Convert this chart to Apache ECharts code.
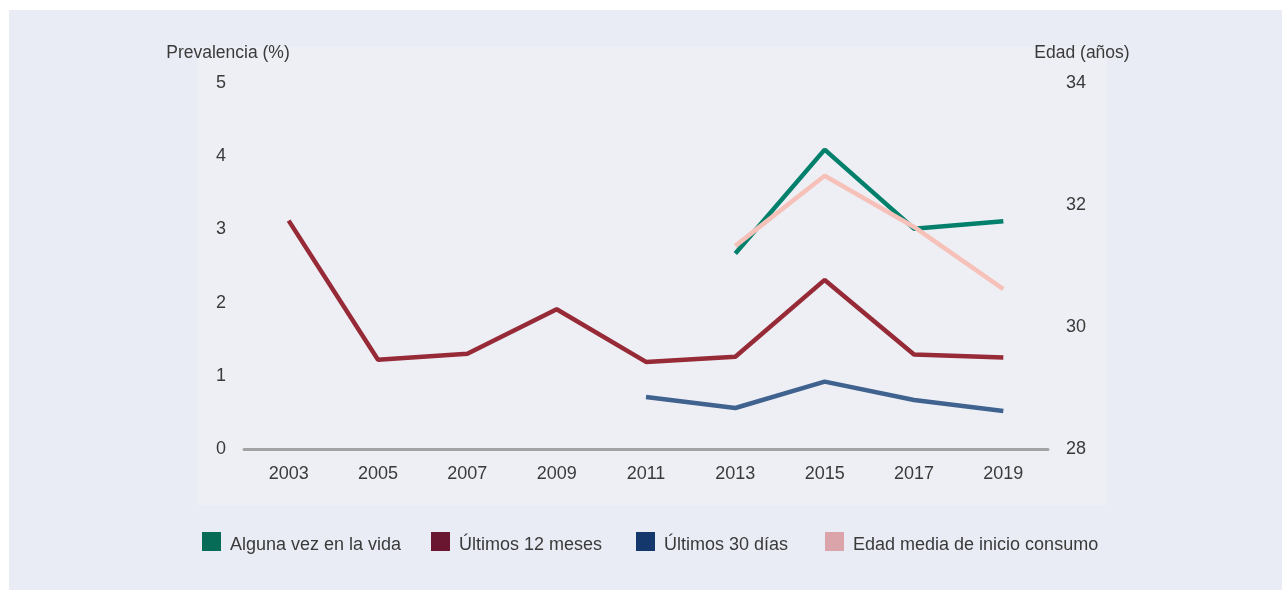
<!DOCTYPE html>
<html>
<head>
<meta charset="utf-8">
<script src="https://cdn.jsdelivr.net/npm/echarts@6/dist/echarts.min.js"></script>
<style>
html,body{margin:0;padding:0;background:#ffffff;}
#chart{width:1282px;height:590px;}
</style>
</head>
<body>
<div id="chart"></div>
<script>
const years = ['2003','2005','2007','2009','2011','2013','2015','2017','2019'];
const algunaVez = [null, null, null, null, null, 2.67, 4.09, 3.01, 3.11];
const ultimos12 = [3.12, 1.22, 1.30, 1.91, 1.19, 1.26, 2.31, 1.29, 1.25];
const ultimos30 = [null, null, null, null, 0.71, 0.56, 0.92, 0.67, 0.52];
const edadMedia = [null, null, null, null, null, 31.33, 32.48, 31.64, 30.62];
const leftTicks = [0, 1, 2, 3, 4, 5];
const rightTicks = [28, 30, 32, 34];
const seriesNames = ['Alguna vez en la vida', 'Últimos 12 meses', 'Últimos 30 días', 'Edad media de inicio consumo'];

const font = 'Liberation Sans, Arial, Helvetica, sans-serif';
const chart = echarts.init(document.getElementById('chart'));
const lineColors = ['#02806b', '#962a36', '#40628f', '#f6c1b9'];
const legendColors = ['#066b57', '#6a1631', '#14386b', '#dba4aa'];
const legendLefts = [202, 431, 636, 825];
const textColor = '#3a3a3a';

chart.setOption({
  animation: false,
  backgroundColor: '#ffffff',
  graphic: [
    { type: 'rect', z: -10, shape: { x: 9, y: 10, width: 1273, height: 580 }, style: { fill: '#e9ecf4' } },
    { type: 'rect', z: -9, shape: { x: 197, y: 47, width: 910, height: 458 }, style: { fill: '#eeeff5' } }
  ],
  grid: { left: 244, right: 234, top: 83, bottom: 141, containLabel: false },
  legend: seriesNames.map((n, i) => ({
    left: legendLefts[i], top: 532, padding: 0,
    itemWidth: 19, itemHeight: 19,
    icon: 'rect',
    formatter: '{t|{name}}',
    textStyle: {
      fontFamily: font, fontSize: 18, color: textColor,
      rich: { t: { fontFamily: font, fontSize: 18, color: textColor, padding: [8, 0, 0, 4] } }
    },
    data: [{ name: n, itemStyle: { color: legendColors[i] } }]
  })),
  xAxis: {
    type: 'category',
    data: years,
    boundaryGap: true,
    axisLine: { show: true, lineStyle: { color: '#a3a3a3', width: 3 } },
    axisTick: { show: false },
    axisLabel: { fontFamily: font, fontSize: 18, color: textColor, margin: 16 },
    splitLine: { show: false }
  },
  yAxis: [
    {
      type: 'value', min: leftTicks[0], max: leftTicks[leftTicks.length - 1], interval: 1,
      name: 'Prevalencia (%)', nameLocation: 'end', nameGap: 21,
      nameTextStyle: { fontFamily: font, fontSize: 17.5, color: textColor, align: 'center', padding: [0, 32, 0, 0] },
      axisLine: { show: false }, axisTick: { show: false }, splitLine: { show: false },
      axisLabel: { fontFamily: font, fontSize: 18, color: textColor, margin: 18 }
    },
    {
      type: 'value', min: rightTicks[0], max: rightTicks[rightTicks.length - 1], interval: 2,
      name: 'Edad (años)', nameLocation: 'end', nameGap: 21,
      nameTextStyle: { fontFamily: font, fontSize: 17.5, color: textColor, align: 'center', padding: [0, 0, 0, 68] },
      axisLine: { show: false }, axisTick: { show: false }, splitLine: { show: false },
      axisLabel: { fontFamily: font, fontSize: 18, color: textColor, margin: 18 }
    }
  ],
  series: [
    { name: seriesNames[0], type: 'line', data: algunaVez, yAxisIndex: 0, symbol: 'none', z: 3,
      lineStyle: { width: 4.5, color: lineColors[0] }, itemStyle: { color: lineColors[0] } },
    { name: seriesNames[1], type: 'line', data: ultimos12, yAxisIndex: 0, symbol: 'none', z: 2,
      lineStyle: { width: 4.5, color: lineColors[1] }, itemStyle: { color: lineColors[1] } },
    { name: seriesNames[2], type: 'line', data: ultimos30, yAxisIndex: 0, symbol: 'none', z: 2,
      lineStyle: { width: 4.5, color: lineColors[2] }, itemStyle: { color: lineColors[2] } },
    { name: seriesNames[3], type: 'line', data: edadMedia, yAxisIndex: 1, symbol: 'none', z: 4,
      lineStyle: { width: 4.5, color: lineColors[3] }, itemStyle: { color: lineColors[3] } }
  ]
});
</script>
</body>
</html>
